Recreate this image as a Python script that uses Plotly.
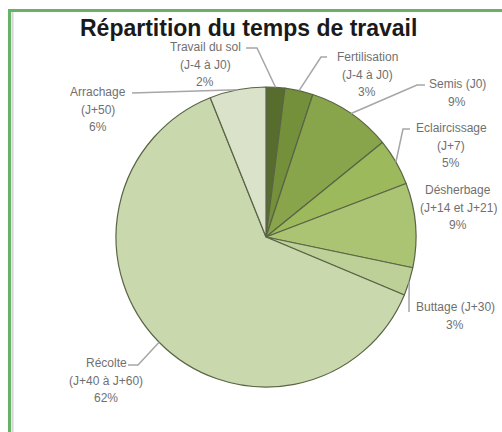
import numpy as np
import plotly.graph_objects as go

# Work stages (clockwise from 12 o'clock) and their share of total time, in %
stages = ["Travail du sol", "Fertilisation", "Semis", "Eclaircissage",
          "Désherbage", "Buttage", "Récolte", "Arrachage"]
timing = ["(J-4 à J0)", "(J-4 à J0)", "(J0)", "(J+7)",
          "(J+14 et J+21)", "(J+30)", "(J+40 à J+60)", "(J+50)"]
shares = [2, 3, 9, 5, 9, 3, 62, 6]
colors = ["#566d2e", "#74903b", "#88a54b", "#9cba5b",
          "#abc473", "#bdd097", "#cad8ae", "#dae3c9"]

W, H = 502, 432
CX, CY, R = 266, 237, 150  # pie centre and radius in pixels


def px(x):
    return x / W


def py(y):
    return 1 - y / H


fig = go.Figure(go.Pie(
    labels=stages,
    values=shares,
    sort=False,
    direction="clockwise",
    rotation=0,
    textinfo="none",
    hoverinfo="label+value",
    marker=dict(colors=colors, line=dict(color="#5a6446", width=1.2)),
    domain=dict(x=[px(CX - R), px(CX + R)], y=[py(CY + R), py(CY - R)]),
    showlegend=False,
))

# mid angle of each slice (degrees clockwise from top) -> point on the rim
frac = np.array(shares, dtype=float) / sum(shares)
mid = (np.cumsum(frac) - frac / 2) * 360
rim = [(CX + R * np.sin(np.radians(a)), CY - R * np.cos(np.radians(a))) for a in mid]

# label block: text centre x, first line y, leader start points
label_pos = {
    "Travail du sol": (205, 47, [(246, 48), (257, 48)]),
    "Fertilisation": (367, 57, [(327, 57), (321, 57)]),
    "Semis": (457, 84, [(425, 85), (417, 85)]),
    "Eclaircissage": (451, 128, [(410, 129), (403, 129)]),
    "Désherbage": (458, 190, None),
    "Buttage": (455, 307, [(409, 312), (409, 300)]),
    "Récolte": (106, 363, [(128, 365), (138, 365)]),
    "Arrachage": (98, 92, [(132, 93)]),
}
one_line_head = {"Semis", "Buttage"}

annotations = []
shapes = []
for i, name in enumerate(stages):
    cx, y0, lead = label_pos[name]
    if name in one_line_head:
        lines = [f"{name} {timing[i]}", f"{shares[i]}%"]
    else:
        lines = [name, timing[i], f"{shares[i]}%"]
    for k, t in enumerate(lines):
        annotations.append(dict(
            x=px(cx), y=py(y0 + k * 17.5), xref="paper", yref="paper",
            text=t, showarrow=False, xanchor="center", yanchor="middle",
            font=dict(family="Liberation Sans, Arial, sans-serif", size=12,
                      color="#707070"),
        ))
    if lead:
        pts = lead + [rim[i]]
        path = "M " + " L ".join(f"{px(x)},{py(y)}" for x, y in pts)
        shapes.append(dict(type="path", path=path, xref="paper", yref="paper",
                           line=dict(color="#a6a6a6", width=1.5)))

# chart frame: green top and left edges, thin grey inner edge on the left
shapes.append(dict(type="line", xref="paper", yref="paper",
                   x0=px(8), x1=1, y0=py(10.5), y1=py(10.5),
                   line=dict(color="#66b266", width=3), layer="below"))
shapes.append(dict(type="line", xref="paper", yref="paper",
                   x0=px(9.5), x1=px(9.5), y0=0, y1=py(9),
                   line=dict(color="#66b266", width=3), layer="below"))
shapes.append(dict(type="line", xref="paper", yref="paper",
                   x0=px(12.5), x1=px(12.5), y0=0, y1=py(12),
                   line=dict(color="#d4d4d4", width=2), layer="below"))

annotations.append(dict(
    x=px(248), y=py(28), xref="paper", yref="paper", showarrow=False,
    text="<b>Répartition du temps de travail</b>", xanchor="center", yanchor="middle",
    font=dict(family="Liberation Sans, Arial, sans-serif", size=23, color="#1a1a1a"),
))

fig.update_layout(
    width=W, height=H,
    margin=dict(l=0, r=0, t=0, b=0),
    paper_bgcolor="white",
    plot_bgcolor="white",
    annotations=annotations,
    shapes=shapes,
)

fig.write_html(
    "out.html",
    config={"displayModeBar": False},
    post_script="document.body.style.margin='0';document.body.style.overflow='hidden';",
)
